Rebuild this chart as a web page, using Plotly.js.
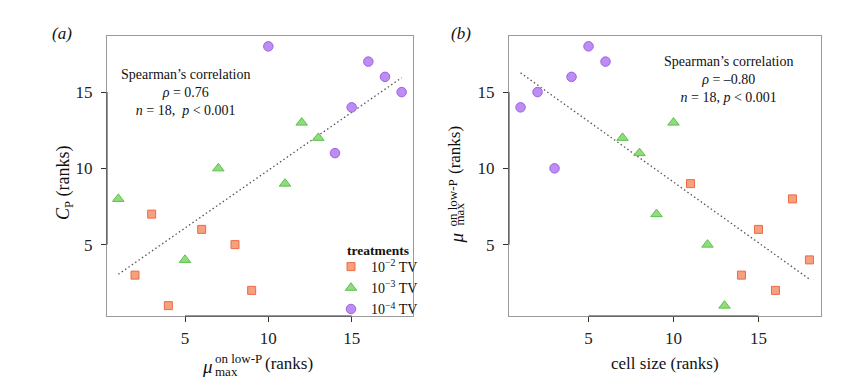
<!DOCTYPE html>
<html>
<head>
<meta charset="utf-8">
<script src="https://cdn.plot.ly/plotly-3.0.1.min.js"></script>
<style>html,body{margin:0;padding:0;background:#fff;}#chart{width:863px;height:388px;}</style>
</head>
<body>
<div id="chart"></div>
<script>
// ---- Data (ranks) ----
const treatmentNames = ["10<sup>−2</sup> TV", "10<sup>−3</sup> TV", "10<sup>−4</sup> TV"];

// Panel (a): mu_max on low-P rank (x) vs C_P rank (y)
const aX_t2 = [2, 3, 4, 6, 8, 9];
const aY_t2 = [3, 7, 1, 6, 5, 2];
const aX_t3 = [1, 5, 7, 11, 12, 13];
const aY_t3 = [8, 4, 10, 9, 13, 12];
const aX_t4 = [10, 14, 15, 16, 17, 18];
const aY_t4 = [18, 11, 14, 17, 16, 15];

// Panel (b): cell size rank (x) vs mu_max on low-P rank (y)
const bX_t2 = [11, 14, 15, 16, 17, 18];
const bY_t2 = [9, 3, 6, 2, 8, 4];
const bX_t3 = [7, 8, 9, 10, 12, 13];
const bY_t3 = [12, 11, 7, 13, 5, 1];
const bX_t4 = [1, 2, 3, 4, 5, 6];
const bY_t4 = [14, 15, 10, 16, 18, 17];

const tickVals = [5, 10, 15];
const statsA = ["Spearman’s correlation", "<i>ρ</i> = 0.76", "<i>n</i> = 18,  <i>p</i> &lt; 0.001"];
const statsB = ["Spearman’s correlation", "<i>ρ</i> = –0.80", "<i>n</i> = 18, <i>p</i> &lt; 0.001"];

// ---- Styles ----
const W = 863, H = 388;
const SERIF = "Liberation Serif";
const styles = [
  {symbol: "square", size: 8, color: "#F5A07F", line: "#EA6C45"},
  {symbol: "triangle-up", size: 10, color: "#8EDC7C", line: "#5DC24C"},
  {symbol: "circle", size: 9.5, color: "#BE8DF3", line: "#9C60E2"}
];

function fit(xs, ys) {
  const n = xs.length;
  const mx = xs.reduce((a, b) => a + b, 0) / n;
  const my = ys.reduce((a, b) => a + b, 0) / n;
  let sxy = 0, sxx = 0;
  for (let i = 0; i < n; i++) { sxy += (xs[i] - mx) * (ys[i] - my); sxx += (xs[i] - mx) ** 2; }
  const b = sxy / sxx, a = my - b * mx;
  const x0 = Math.min(...xs), x1 = Math.max(...xs);
  return {x: [x0, x1], y: [a + b * x0, a + b * x1]};
}

function scatter(xs, ys, k, xa, ya, showlegend) {
  const s = styles[k];
  return {
    type: "scatter", mode: "markers", x: xs, y: ys, xaxis: xa, yaxis: ya,
    name: treatmentNames[k], showlegend: showlegend, legendgroup: "g" + k,
    marker: {symbol: s.symbol, size: s.size, color: s.color, line: {color: s.line, width: 1}},
    hoverinfo: "x+y"
  };
}

const aAllX = aX_t2.concat(aX_t3, aX_t4), aAllY = aY_t2.concat(aY_t3, aY_t4);
const bAllX = bX_t2.concat(bX_t3, bX_t4), bAllY = bY_t2.concat(bY_t3, bY_t4);
const fa = fit(aAllX, aAllY), fb = fit(bAllX, bAllY);

const lineStyle = {color: "#555", width: 1.3, dash: "1.5px,2.6px"};
const traces = [
  {type: "scatter", mode: "lines", x: fa.x, y: fa.y, xaxis: "x", yaxis: "y", line: lineStyle, showlegend: false, hoverinfo: "skip"},
  {type: "scatter", mode: "lines", x: fb.x, y: fb.y, xaxis: "x2", yaxis: "y2", line: lineStyle, showlegend: false, hoverinfo: "skip"},
  scatter(aX_t2, aY_t2, 0, "x", "y", true),
  scatter(aX_t3, aY_t3, 1, "x", "y", true),
  scatter(aX_t4, aY_t4, 2, "x", "y", true),
  scatter(bX_t2, bY_t2, 0, "x2", "y2", false),
  scatter(bX_t3, bY_t3, 1, "x2", "y2", false),
  scatter(bX_t4, bY_t4, 2, "x2", "y2", false)
];

function allRange(arr) {
  const lo = Math.min(...arr), hi = Math.max(...arr), pad = 0.04 * (hi - lo);
  return [lo - pad, hi + pad];
}

function axis(domain, range, anchor, isY) {
  return {
    domain: domain, range: range, anchor: anchor,
    showgrid: false, zeroline: false,
    showline: true, mirror: true, linecolor: "#9a9a9a", linewidth: 1,
    ticks: "outside", ticklen: 5, tickwidth: 1, tickcolor: "#333",
    tickvals: tickVals, ticktext: tickVals.map(String),
    tickfont: {family: SERIF, size: 17, color: "#222"},
    ticklabelstandoff: isY ? 5 : 2,
    fixedrange: true
  };
}

const px = v => v / W;
const py = v => (H - v) / H;

const xDomA = [px(107), px(413)], xDomB = [px(509), px(821)];
const yDom = [py(316), py(36)];

const shapes = [];
[["x", "y"], ["x2", "y2"]].forEach(([xa, ya]) => {
  shapes.push({type: "line", xref: xa, yref: ya + " domain", x0: tickVals[0], x1: tickVals[tickVals.length - 1], y0: 0, y1: 0, line: {color: "#333", width: 1}});
  shapes.push({type: "line", xref: xa + " domain", yref: ya, y0: tickVals[0], y1: tickVals[tickVals.length - 1], x0: 0, x1: 0, line: {color: "#333", width: 1}});
});

function ann(text, x, y, size, opts) {
  return Object.assign({
    text: text, x: px(x), y: py(y), xref: "paper", yref: "paper",
    showarrow: false, font: {family: SERIF, size: size, color: "#111"},
    borderpad: 0, xanchor: "center", yanchor: "middle"
  }, opts || {});
}

const annotations = [
  ann("<i>(a)</i>", 62, 33, 17),
  ann("<i>(b)</i>", 461, 33, 17),
  ann(statsA.join("<br>"), 185, 92, 14),
  ann(statsB.join("<br>"), 728, 79, 14),
  ann("<b>treatments</b>", 346, 251, 13.5, {xanchor: "left"}),
  // left y title
  ann("<i>C</i><sub>P</sub> (ranks)", 64, 183, 18, {textangle: -90}),
  // left x title (stacked super/subscript)
  ann("<i>μ</i>", 201, 366, 19, {xanchor: "left"}),
  ann("on low-P", 214, 358, 13, {xanchor: "left"}),
  ann("max", 214, 371, 13, {xanchor: "left"}),
  ann("(ranks)", 264, 363, 17, {xanchor: "left"}),
  // right x title
  ann("cell size (ranks)", 665, 363, 17),
  // right y title (rotated, stacked)
  ann("<i>μ</i>", 456, 244, 19, {textangle: -90, yanchor: "bottom"}),
  ann("on low-P", 452, 227, 13, {textangle: -90, yanchor: "bottom"}),
  ann("max", 459, 227, 13, {textangle: -90, yanchor: "bottom"}),
  ann("(ranks)", 455, 175, 17, {textangle: -90, yanchor: "bottom"})
];

const layout = {
  width: W, height: H,
  margin: {l: 0, r: 0, t: 0, b: 0},
  paper_bgcolor: "#fff", plot_bgcolor: "#fff",
  font: {family: SERIF, color: "#111"},
  xaxis: axis(xDomA, allRange(aAllX), "y", false),
  yaxis: axis(yDom, allRange(aAllY), "x", true),
  xaxis2: axis(xDomB, allRange(bAllX), "y2", false),
  yaxis2: axis(yDom, allRange(bAllY), "x2", true),
  showlegend: true,
  legend: {
    x: px(331), y: py(251), xanchor: "left", yanchor: "top",
    bgcolor: "rgba(0,0,0,0)", borderwidth: 0,
    font: {family: SERIF, size: 14, color: "#111"},
    tracegroupgap: 0, itemclick: false, itemdoubleclick: false
  },
  shapes: shapes,
  annotations: annotations
};

Plotly.newPlot("chart", traces, layout, {displayModeBar: false, staticPlot: true});
</script>
</body>
</html>
